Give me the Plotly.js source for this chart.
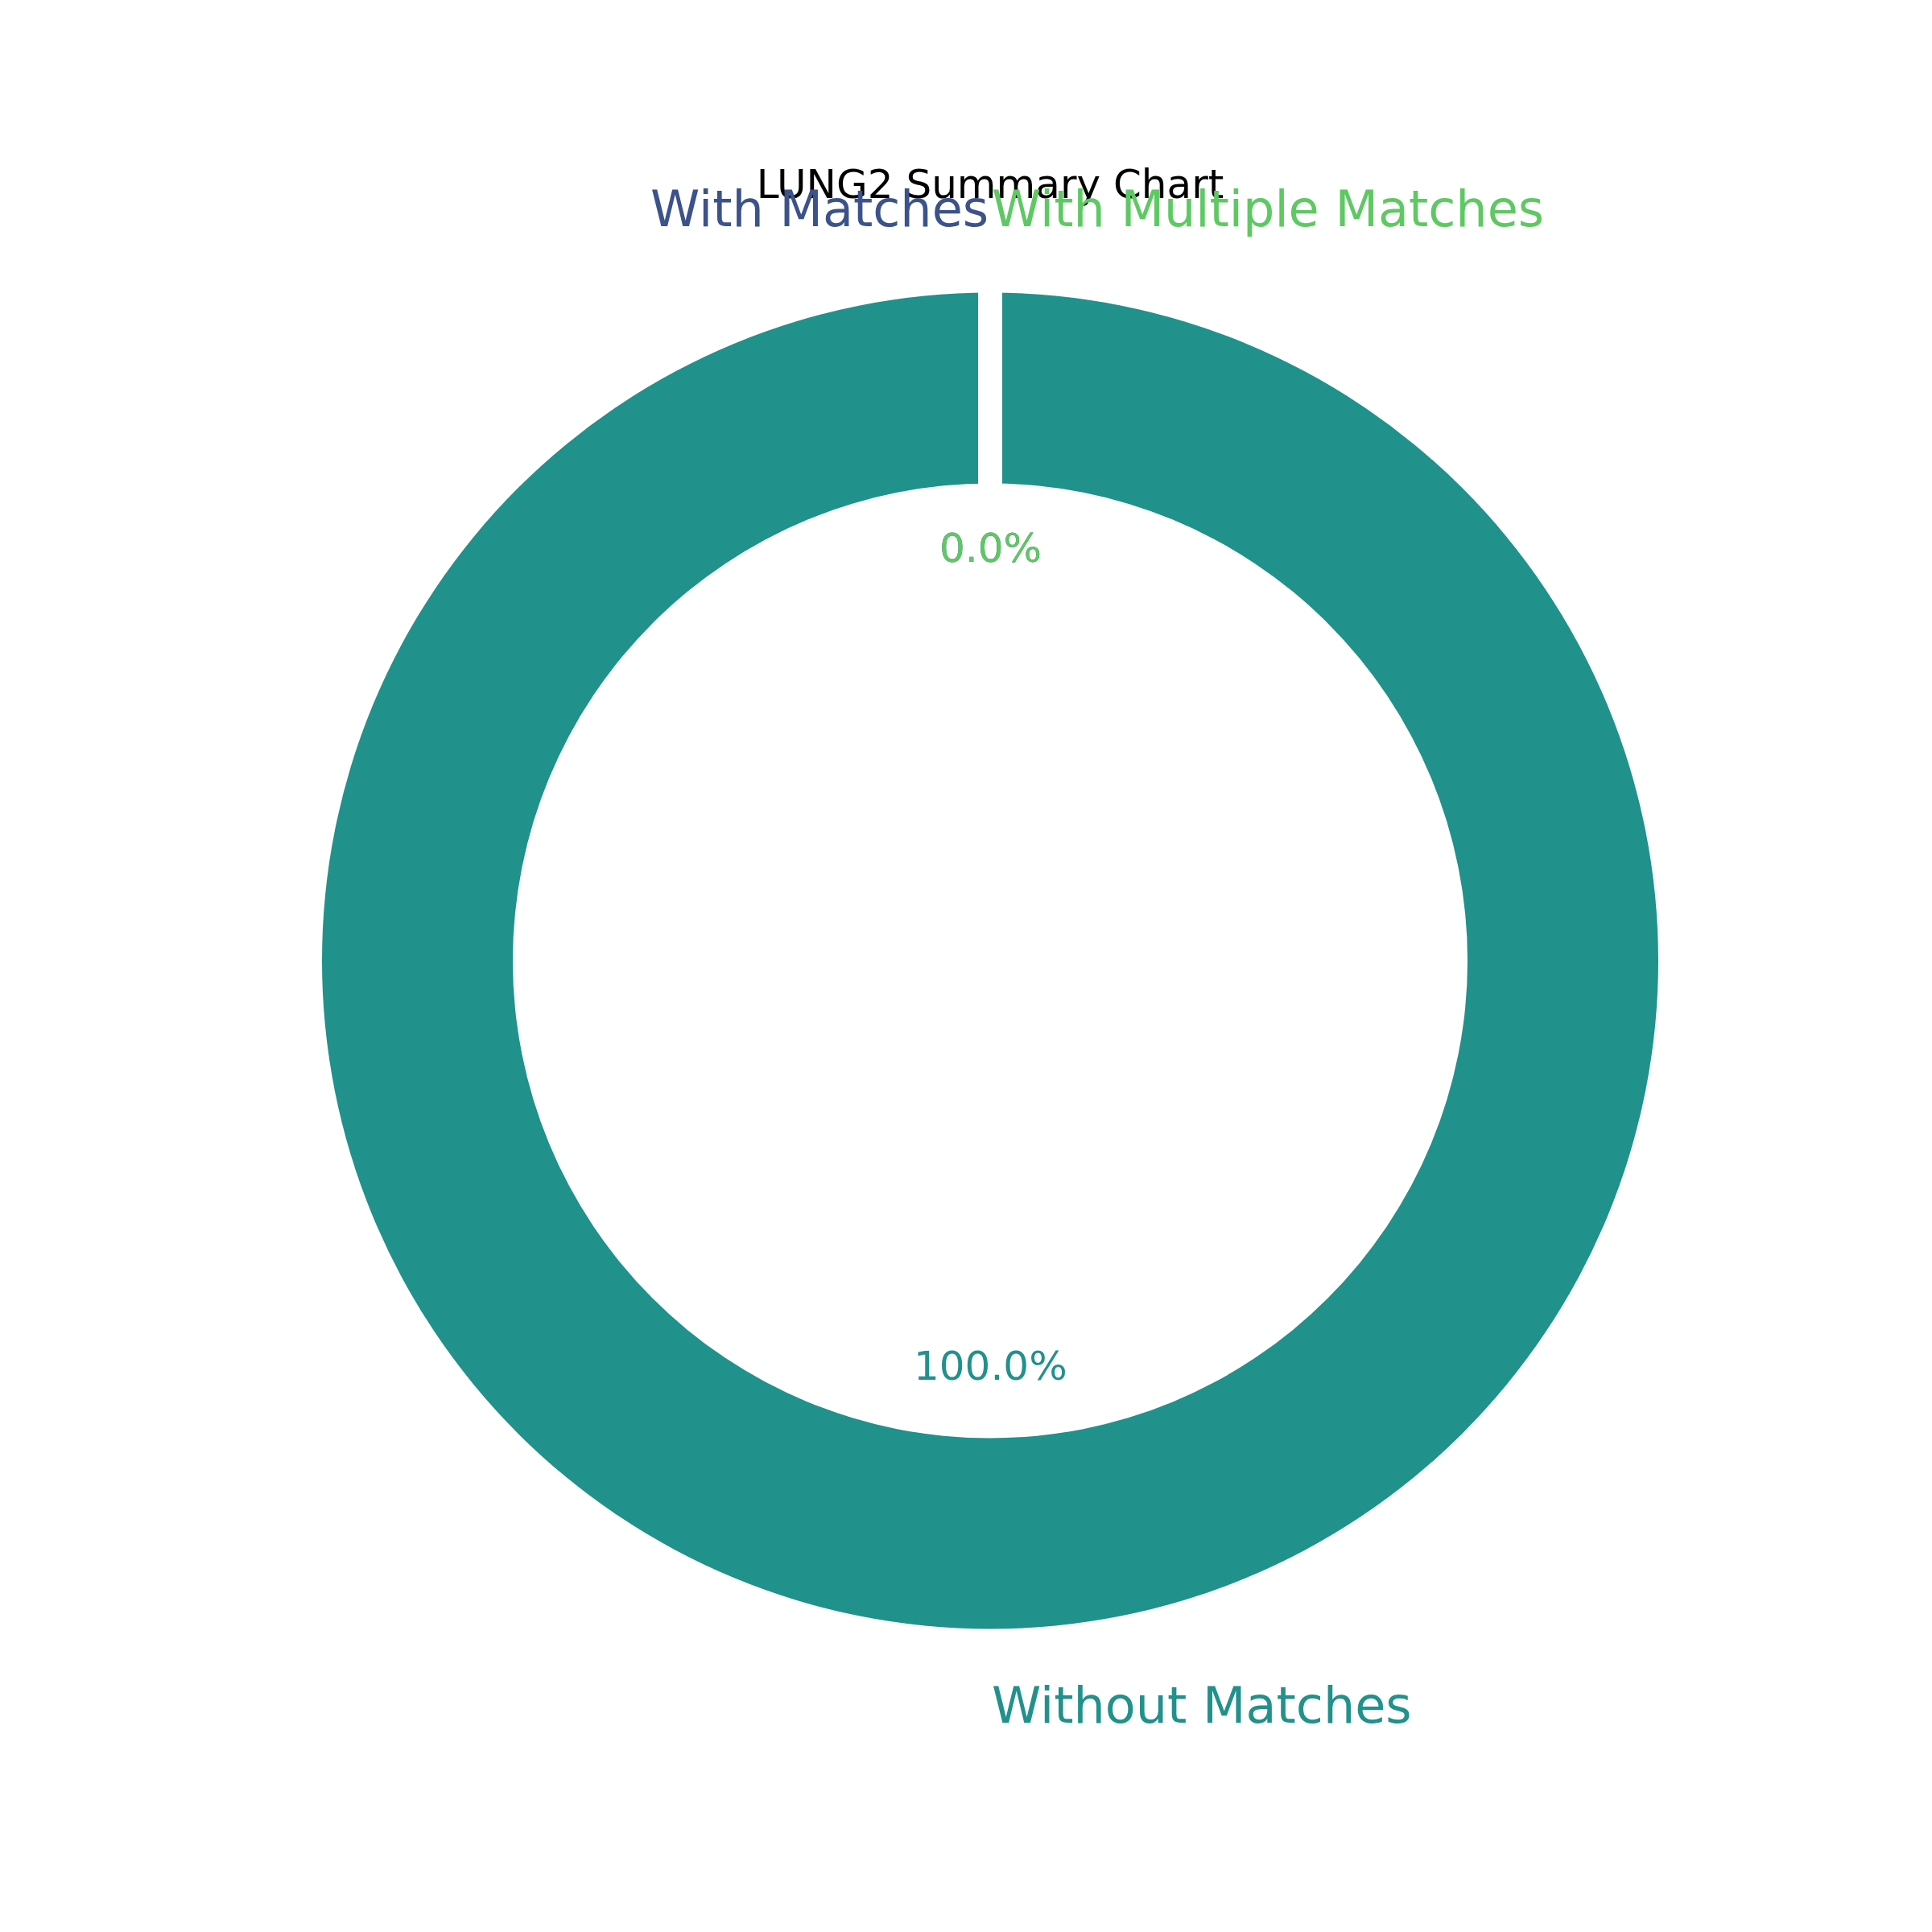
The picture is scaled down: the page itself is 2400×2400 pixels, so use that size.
<!DOCTYPE html>
<html>
<head>
<meta charset="utf-8">
<script src="https://cdn.plot.ly/plotly-3.0.1.min.js"></script>
<style>html,body{margin:0;padding:0;background:#fff;}</style>
</head>
<body>
<div id="chart" style="width:2400px;height:2400px;"></div>
<script>
// Data
const categories = ["With Matches", "Without Matches", "With Multiple Matches"];
const counts = [0, 100, 0];
const sliceColors = ["#3b528b", "#21918c", "#5ec962"];
const chartTitle = "LUNG2 Summary Chart";

// Layout geometry (styling)
const W = 2400, H = 2400;
const cxPx = 1230, cyPx = 1193.5, rPx = 830;
const holeFrac = 0.7145;
const labelDist = 1.12, pctDist = 0.612;
const textLift = 4.5;
const labelAnchors = ["right", "left", "left"];
const FONT = "DejaVu Sans, sans-serif";

const total = counts.reduce((a, b) => a + b, 0);
const xDom = [(cxPx - rPx) / W, (cxPx + rPx) / W];
const yDom = [(H - cyPx - rPx) / H, (H - cyPx + rPx) / H];

// angles like matplotlib: start at 90 deg, counterclockwise
const annotations = [];
let cum = 0;
counts.forEach((v, i) => {
  const t1 = 90 + 360 * cum / total;
  const t2 = 90 + 360 * (cum + v) / total;
  cum += v;
  const mid = (t1 + t2) / 2 * Math.PI / 180;
  const lx = cxPx + labelDist * rPx * Math.cos(mid);
  const ly = cyPx - labelDist * rPx * Math.sin(mid) - textLift;
  const px = cxPx + pctDist * rPx * Math.cos(mid);
  const py = cyPx - pctDist * rPx * Math.sin(mid) - textLift;
  annotations.push({
    text: categories[i], xref: "paper", yref: "paper",
    x: lx / W, y: 1 - ly / H, xanchor: labelAnchors[i], yanchor: "middle",
    showarrow: false, font: {family: FONT, size: 62, color: sliceColors[i]}
  });
  annotations.push({
    text: (v / total * 100).toFixed(1) + "%", xref: "paper", yref: "paper",
    x: px / W, y: 1 - py / H, xanchor: "center", yanchor: "middle",
    showarrow: false, font: {family: FONT, size: 50, color: sliceColors[i]}
  });
});

const trace = {
  type: "pie",
  labels: categories,
  values: counts,
  marker: {colors: sliceColors, line: {width: 0}},
  hole: holeFrac,
  sort: false,
  direction: "counterclockwise",
  rotation: 0,
  textinfo: "none",
  hoverinfo: "label+percent",
  showlegend: false,
  domain: {x: xDom, y: yDom}
};

// white separating edge at the start angle
const gapShape = {
  type: "line", xref: "paper", yref: "paper",
  x0: cxPx / W, x1: cxPx / W,
  y0: 1 - (cyPx - rPx * holeFrac + 20) / H, y1: 1 - (cyPx - rPx - 20) / H,
  line: {color: "#ffffff", width: 30}
};

const layout = {
  width: W, height: H,
  margin: {l: 0, r: 0, t: 0, b: 0},
  paper_bgcolor: "#ffffff",
  plot_bgcolor: "#ffffff",
  title: {
    text: chartTitle, x: 0.5125, xanchor: "center", xref: "paper",
    y: 1 - 228 / H, yanchor: "middle", yref: "paper",
    font: {family: FONT, size: 50, color: "#000000"}
  },
  annotations: annotations,
  shapes: [gapShape],
  showlegend: false
};

Plotly.newPlot("chart", [trace], layout, {displayModeBar: false, staticPlot: true});
</script>
</body>
</html>
